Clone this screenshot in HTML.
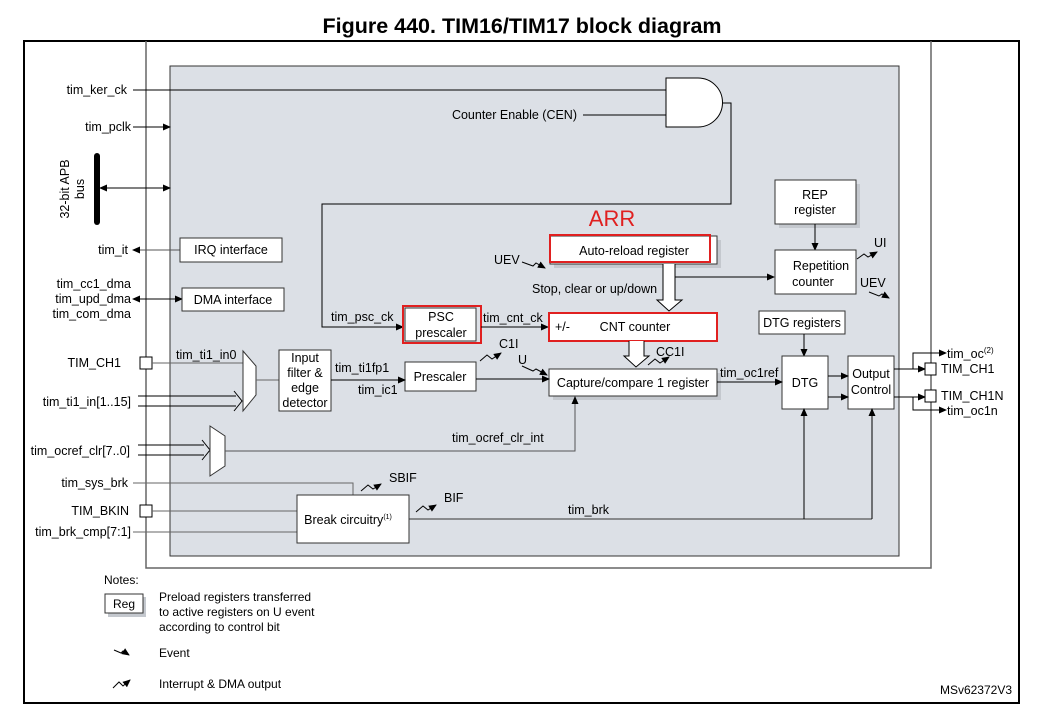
<!DOCTYPE html>
<html><head><meta charset="utf-8"><style>
html,body{margin:0;padding:0;background:#fff;}
svg{display:block;font-family:"Liberation Sans",Arial,sans-serif;}
</style></head><body>
<svg width="1040" height="713" viewBox="0 0 1040 713" xmlns="http://www.w3.org/2000/svg">
<defs>
<marker id="a" markerWidth="8" markerHeight="8" refX="7" refY="4" orient="auto" markerUnits="userSpaceOnUse"><path d="M0,0.5 L8,4 L0,7.5z" fill="#000"/></marker>
<marker id="b" markerWidth="8" markerHeight="8" refX="1" refY="4" orient="auto" markerUnits="userSpaceOnUse"><path d="M8,0.5 L0,4 L8,7.5z" fill="#000"/></marker>
</defs>
<text x="522" y="33" font-size="21.5" font-weight="bold" text-anchor="middle">Figure 440. TIM16/TIM17 block diagram</text>
<rect x="24" y="41" width="995" height="662" fill="none" stroke="#000" stroke-width="2"/>
<path d="M146,41 V568 H931 V41" fill="none" stroke="#666" stroke-width="1.5"/>
<rect x="170" y="66" width="729" height="490" fill="#dce0e6" stroke="#333" stroke-width="1"/>

<g font-size="12.5" fill="#000">
<text x="127" y="94" text-anchor="end">tim_ker_ck</text>
<line x1="133" y1="90" x2="666" y2="90" stroke="#000"/>
<text x="577" y="119" text-anchor="end">Counter Enable (CEN)</text>
<line x1="583" y1="115" x2="666" y2="115" stroke="#000"/>
<path d="M666,78 H698 A24.5,24.5 0 0 1 698,127 H666 Z" fill="#fff" stroke="#000"/>
<path d="M723,103 H731 V204 H322 V327 H403" fill="none" stroke="#000" marker-end="url(#a)"/>
<text x="131" y="131" text-anchor="end">tim_pclk</text>
<line x1="133" y1="127" x2="170" y2="127" stroke="#000" marker-end="url(#a)"/>
<rect x="94" y="153" width="6" height="72" rx="3" fill="#000"/>
<text transform="translate(69,189) rotate(-90)" text-anchor="middle">32-bit APB</text>
<text transform="translate(84,189) rotate(-90)" text-anchor="middle">bus</text>
<line x1="100" y1="188" x2="170" y2="188" stroke="#000" marker-start="url(#b)" marker-end="url(#a)"/>
<text x="128" y="254" text-anchor="end">tim_it</text>
<line x1="180" y1="250" x2="133" y2="250" stroke="#555" marker-end="url(#a)"/>
<rect x="180" y="238" width="102" height="24" fill="#fff" stroke="#333"/>
<text x="231" y="254" text-anchor="middle">IRQ interface</text>
<text x="131" y="288" text-anchor="end">tim_cc1_dma</text>
<text x="131" y="303" text-anchor="end">tim_upd_dma</text>
<text x="131" y="318" text-anchor="end">tim_com_dma</text>
<line x1="133" y1="299" x2="182" y2="299" stroke="#000" marker-start="url(#b)" marker-end="url(#a)"/>
<rect x="182" y="288" width="102" height="23" fill="#fff" stroke="#333"/>
<text x="233" y="304" text-anchor="middle">DMA interface</text>

<text x="331" y="321">tim_psc_ck</text>
<rect x="405" y="308" width="71" height="33" fill="#fff" stroke="#333"/>
<rect x="403" y="306" width="78" height="37" fill="none" stroke="#e02020" stroke-width="2"/>
<text x="441" y="321" text-anchor="middle">PSC</text>
<text x="441" y="337" text-anchor="middle">prescaler</text>
<text x="483" y="322">tim_cnt_ck</text>
<line x1="481" y1="327" x2="548" y2="327" stroke="#000" marker-end="url(#a)"/>

<text x="612" y="226" font-size="22" fill="#e02020" text-anchor="middle">ARR</text>
<rect x="554" y="240" width="167" height="28" fill="#c4c8ce"/>
<rect x="550" y="236" width="167" height="28" fill="#fff" stroke="#333"/>
<rect x="550" y="235" width="160" height="27" fill="none" stroke="#e02020" stroke-width="2"/>
<text x="634" y="255" text-anchor="middle">Auto-reload register</text>
<text x="494" y="264">UEV</text>
<path d="M522,262 L533,266 L536,263 L545,268" fill="none" stroke="#000" marker-end="url(#a)"/>
<text x="532" y="293">Stop, clear or up/down</text>
<path d="M663,264 V300 H657 L669,311 L682,300 H675 V264" fill="#fff" stroke="#000"/>
<line x1="675" y1="277" x2="774" y2="277" stroke="#000" marker-end="url(#a)"/>

<rect x="549" y="313" width="168" height="28" fill="#fff" stroke="#e02020" stroke-width="2"/>
<text x="555" y="331">+/-</text>
<text x="635" y="331" text-anchor="middle">CNT counter</text>
<path d="M629,341 V356 H624 L636,367 L649,356 H644 V341" fill="#fff" stroke="#000"/>
<text x="656" y="356">CC1I</text>
<path d="M648,365 L655,359 L660,363 L669,357" fill="none" stroke="#000" marker-end="url(#a)"/>

<rect x="779" y="184" width="81" height="44" fill="#c4c8ce"/>
<rect x="775" y="180" width="81" height="44" fill="#fff" stroke="#333"/>
<text x="815" y="199" text-anchor="middle">REP</text>
<text x="815" y="214" text-anchor="middle">register</text>
<line x1="815" y1="224" x2="815" y2="250" stroke="#000" marker-end="url(#a)"/>
<rect x="775" y="250" width="81" height="44" fill="#fff" stroke="#333"/>
<text x="821" y="270" text-anchor="middle">Repetition</text>
<text x="813" y="286" text-anchor="middle">counter</text>
<text x="874" y="247">UI</text>
<path d="M857,259 L864,254 L868,257 L877,252" fill="none" stroke="#000" marker-end="url(#a)"/>
<text x="860" y="287">UEV</text>
<path d="M869,292 L879,296 L882,294 L889,298" fill="none" stroke="#000" marker-end="url(#a)"/>

<rect x="759" y="311" width="86" height="23" fill="#fff" stroke="#333"/>
<text x="802" y="327" text-anchor="middle">DTG registers</text>
<line x1="804" y1="334" x2="804" y2="356" stroke="#000" marker-end="url(#a)"/>
<rect x="782" y="356" width="46" height="53" fill="#fff" stroke="#333"/>
<text x="805" y="387" text-anchor="middle">DTG</text>
<rect x="848" y="356" width="46" height="53" fill="#fff" stroke="#333"/>
<text x="871" y="378" text-anchor="middle">Output</text>
<text x="871" y="394" text-anchor="middle">Control</text>
<line x1="828" y1="376" x2="848" y2="376" stroke="#000" marker-end="url(#a)"/>
<line x1="828" y1="397" x2="848" y2="397" stroke="#000" marker-end="url(#a)"/>
<line x1="894" y1="369" x2="925" y2="369" stroke="#000" marker-end="url(#a)"/>
<line x1="894" y1="397" x2="925" y2="397" stroke="#000" marker-end="url(#a)"/>
<path d="M913,369 V353 H946" fill="none" stroke="#000" marker-end="url(#a)"/>
<path d="M913,397 V410 H946" fill="none" stroke="#000" marker-end="url(#a)"/>
<rect x="925" y="363" width="11" height="12" fill="#fff" stroke="#000"/>
<rect x="925" y="390" width="11" height="12" fill="#fff" stroke="#000"/>
<text x="947" y="358">tim_oc<tspan font-size="8" dy="-5">(2)</tspan></text>
<text x="941" y="373">TIM_CH1</text>
<text x="941" y="400">TIM_CH1N</text>
<text x="947" y="415">tim_oc1n</text>

<rect x="553" y="373" width="168" height="27" fill="#c4c8ce"/>
<rect x="549" y="369" width="168" height="27" fill="#fff" stroke="#333"/>
<text x="633" y="387" text-anchor="middle">Capture/compare 1 register</text>
<text x="720" y="377">tim_oc1ref</text>
<line x1="717" y1="382" x2="782" y2="382" stroke="#000" marker-end="url(#a)"/>
<text x="499" y="348">C1I</text>
<path d="M480,361 L487,355 L492,359 L501,353" fill="none" stroke="#000" marker-end="url(#a)"/>
<text x="518" y="364">U</text>
<path d="M522,366 L533,371 L536,369 L547,375" fill="none" stroke="#000" marker-end="url(#a)"/>
<rect x="405" y="362" width="71" height="29" fill="#fff" stroke="#333"/>
<text x="440" y="381" text-anchor="middle">Prescaler</text>
<line x1="476" y1="379" x2="549" y2="379" stroke="#000" marker-end="url(#a)"/>

<text x="121" y="367" text-anchor="end">TIM_CH1</text>
<rect x="140" y="357" width="12" height="12" fill="#fff" stroke="#000"/>
<line x1="152" y1="363" x2="243" y2="363" stroke="#666"/>
<text x="176" y="359">tim_ti1_in0</text>
<path d="M243,351 L256,366 V395 L243,411 Z" fill="#fff" stroke="#333"/>
<line x1="256" y1="380" x2="279" y2="380" stroke="#666"/>
<text x="131" y="406" text-anchor="end">tim_ti1_in[1..15]</text>
<path d="M138,396 H236 M138,406 H236 M234,391 L242,401 L234,411" fill="none" stroke="#000"/>
<rect x="279" y="350" width="52" height="61" fill="#fff" stroke="#333"/>
<text x="305" y="362" text-anchor="middle">Input</text>
<text x="305" y="377" text-anchor="middle">filter &amp;</text>
<text x="305" y="392" text-anchor="middle">edge</text>
<text x="305" y="407" text-anchor="middle">detector</text>
<text x="335" y="372">tim_ti1fp1</text>
<text x="358" y="394">tim_ic1</text>
<line x1="331" y1="380" x2="405" y2="380" stroke="#000" marker-end="url(#a)"/>

<text x="130" y="455" text-anchor="end">tim_ocref_clr[7..0]</text>
<path d="M138,445 H204 M138,455 H204 M202,440 L210,450 L202,460" fill="none" stroke="#000"/>
<path d="M210,426 L225,436 V466 L210,476 Z" fill="#fff" stroke="#333"/>
<path d="M225,451 H575 V397" fill="none" stroke="#555" marker-end="url(#a)"/>
<text x="452" y="442">tim_ocref_clr_int</text>

<text x="128" y="487" text-anchor="end">tim_sys_brk</text>
<path d="M133,483 H353 V495" fill="none" stroke="#666"/>
<text x="129" y="515" text-anchor="end">TIM_BKIN</text>
<rect x="140" y="505" width="12" height="12" fill="#fff" stroke="#000"/>
<line x1="152" y1="511" x2="297" y2="511" stroke="#666"/>
<text x="131" y="536" text-anchor="end">tim_brk_cmp[7:1]</text>
<line x1="133" y1="532" x2="297" y2="532" stroke="#666"/>
<rect x="297" y="495" width="112" height="48" fill="#fff" stroke="#333"/>
<text x="348" y="524" text-anchor="middle">Break circuitry<tspan font-size="7" dy="-5">(1)</tspan></text>
<text x="389" y="482">SBIF</text>
<path d="M361,491 L368,485 L373,489 L381,484" fill="none" stroke="#000" marker-end="url(#a)"/>
<text x="444" y="502">BIF</text>
<path d="M416,512 L423,506 L428,510 L436,505" fill="none" stroke="#000" marker-end="url(#a)"/>
<path d="M409,519 H872" fill="none" stroke="#333"/>
<line x1="804" y1="519" x2="804" y2="409" stroke="#000" marker-end="url(#a)"/>
<line x1="872" y1="519" x2="872" y2="409" stroke="#000" marker-end="url(#a)"/>
<text x="568" y="514">tim_brk</text>
</g>

<g font-size="12" fill="#000">
<text x="104" y="584">Notes:</text>
<rect x="108" y="597" width="38" height="20" fill="#c4c8ce"/>
<rect x="105" y="594" width="38" height="19" fill="#fff" stroke="#333"/>
<text x="124" y="608" text-anchor="middle">Reg</text>
<text x="159" y="601">Preload registers transferred</text>
<text x="159" y="616">to active registers on U event</text>
<text x="159" y="631">according to control bit</text>
<path d="M114,650 L121,653 L123,651 L129,655" fill="none" stroke="#000" marker-end="url(#a)"/>
<text x="159" y="657">Event</text>
<path d="M113,688 L119,682 L123,686 L130,680" fill="none" stroke="#000" marker-end="url(#a)"/>
<text x="159" y="688">Interrupt &amp; DMA output</text>
<text x="1012" y="694" text-anchor="end">MSv62372V3</text>
</g>
</svg>
</body></html>
